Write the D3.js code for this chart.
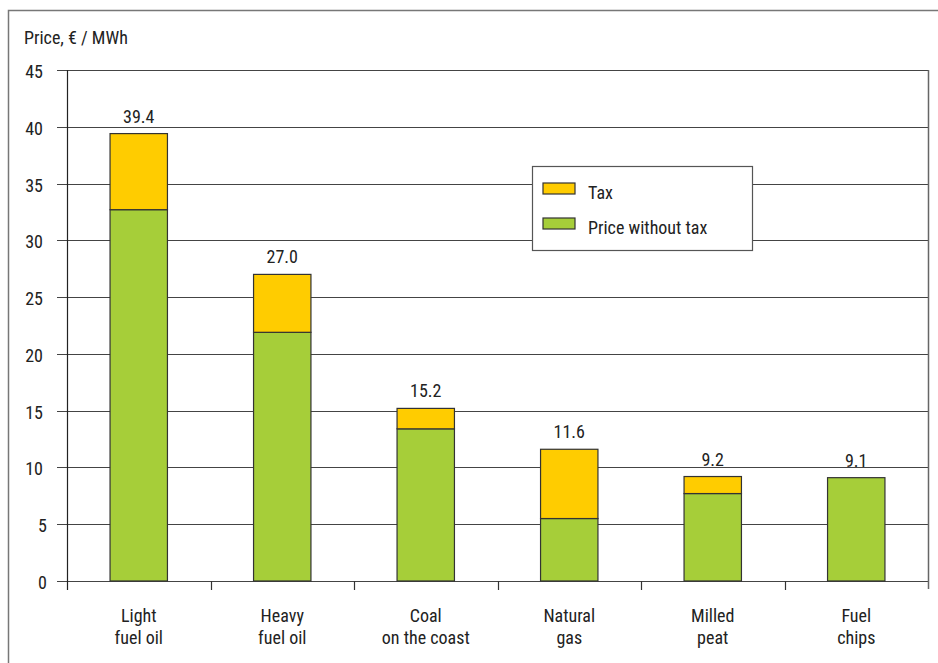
<!DOCTYPE html>
<html><head><meta charset="utf-8">
<script src="https://cdn.jsdelivr.net/npm/d3@7"></script>
<style>
html,body{margin:0;padding:0;background:#fff;}
text{font-family:"Liberation Sans Narrow","Roboto Condensed","Arial Narrow",Roboto,sans-serif;fill:#222;}
</style></head>
<body>
<svg id="chart" width="938" height="663"></svg>
<script>
const categories = [["Light","fuel oil"],["Heavy","fuel oil"],["Coal","on the coast"],["Natural","gas"],["Milled","peat"],["Fuel","chips"]];
const priceWithoutTax = [32.7, 21.9, 13.4, 5.5, 7.7, 9.1];
const tax = [6.7, 5.1, 1.8, 6.1, 1.5, 0];
const totalLabels = ["39.4","27.0","15.2","11.6","9.2","9.1"];
const yTicks = [0,5,10,15,20,25,30,35,40,45];
const seriesNames = ["Tax","Price without tax"];
const colors = {tax:"#FFCC00", price:"#A6CE39"};

const svg = d3.select("#chart");
const M = {left:67, right:928, top:70, bottom:581};
const FS = 18;

// outer frame
svg.append("path").attr("d","M8.5,663 V10.5 H938").attr("fill","none").attr("stroke","#777").attr("stroke-width",1.5);

const x = d3.scaleBand().domain(d3.range(categories.length)).range([M.left,M.right]).paddingInner(0.6).paddingOuter(0.3);
const xb = d3.scaleBand().domain(d3.range(categories.length)).range([M.left,M.right]);
const y = d3.scaleLinear().domain([0,45]).range([M.bottom,M.top]);

// grid lines
svg.append("g").selectAll("line").data(yTicks).join("line")
  .attr("x1",57).attr("x2",M.right)
  .attr("y1",d=>Math.round(y(d))+0.5).attr("y2",d=>Math.round(y(d))+0.5)
  .attr("stroke","#444").attr("stroke-width",1.2);

// right border of plot
svg.append("line").attr("x1",M.right+0.5).attr("x2",M.right+0.5).attr("y1",M.top).attr("y2",M.bottom+8)
  .attr("stroke","#666").attr("stroke-width",1.5);

// y axis line
svg.append("line").attr("x1",M.left+0.5).attr("x2",M.left+0.5).attr("y1",M.top).attr("y2",M.bottom+9)
  .attr("stroke","#222").attr("stroke-width",1.2);

// x ticks at band boundaries
const bounds = d3.range(categories.length).map(i=>xb(i)).slice(1);
svg.append("g").selectAll("line").data(bounds).join("line")
  .attr("x1",d=>Math.round(d)+0.5).attr("x2",d=>Math.round(d)+0.5)
  .attr("y1",M.bottom).attr("y2",M.bottom+9).attr("stroke","#333").attr("stroke-width",1.2);

// y tick labels
svg.append("g").selectAll("text").data(yTicks).join("text")
  .attr("x",d=>d<10?47:43).attr("y",d=>y(d)+8).attr("text-anchor","end")
  .attr("font-size",FS).text(d=>d);

// title
svg.append("text").attr("x",24).attr("y",44).attr("font-size",FS).text("Price, € / MWh");

// bars
const g = svg.append("g");
categories.forEach((c,i)=>{
  g.append("rect").attr("x",x(i)).attr("width",x.bandwidth())
    .attr("y",y(priceWithoutTax[i])).attr("height",y(0)-y(priceWithoutTax[i]))
    .attr("fill",colors.price).attr("stroke","#333").attr("stroke-width",1.2);
  if(tax[i]>0){
    g.append("rect").attr("x",x(i)).attr("width",x.bandwidth())
      .attr("y",y(priceWithoutTax[i]+tax[i])).attr("height",y(priceWithoutTax[i])-y(priceWithoutTax[i]+tax[i]))
      .attr("fill",colors.tax).attr("stroke","#333").attr("stroke-width",1.2);
  }
  g.append("text").attr("x",x(i)+x.bandwidth()/2).attr("y",y(priceWithoutTax[i]+tax[i])-11)
    .attr("text-anchor","middle").attr("font-size",FS).text(totalLabels[i]);
  c.forEach((line,j)=>{
    g.append("text").attr("x",xb(i)+xb.bandwidth()/2).attr("y",622+j*22)
      .attr("text-anchor","middle").attr("font-size",FS).text(line);
  });
});

// legend
const lg = svg.append("g");
lg.append("rect").attr("x",532.5).attr("y",166.5).attr("width",220).attr("height",84)
  .attr("fill","#fff").attr("stroke","#555").attr("stroke-width",1.2);
[colors.tax, colors.price].forEach((col,i)=>{
  lg.append("rect").attr("x",543).attr("y",183+i*35).attr("width",32).attr("height",11)
    .attr("fill",col).attr("stroke","#333").attr("stroke-width",1.2);
  lg.append("text").attr("x",588).attr("y",199+i*35).attr("font-size",FS).text(seriesNames[i]);
});
</script>
</body></html>
